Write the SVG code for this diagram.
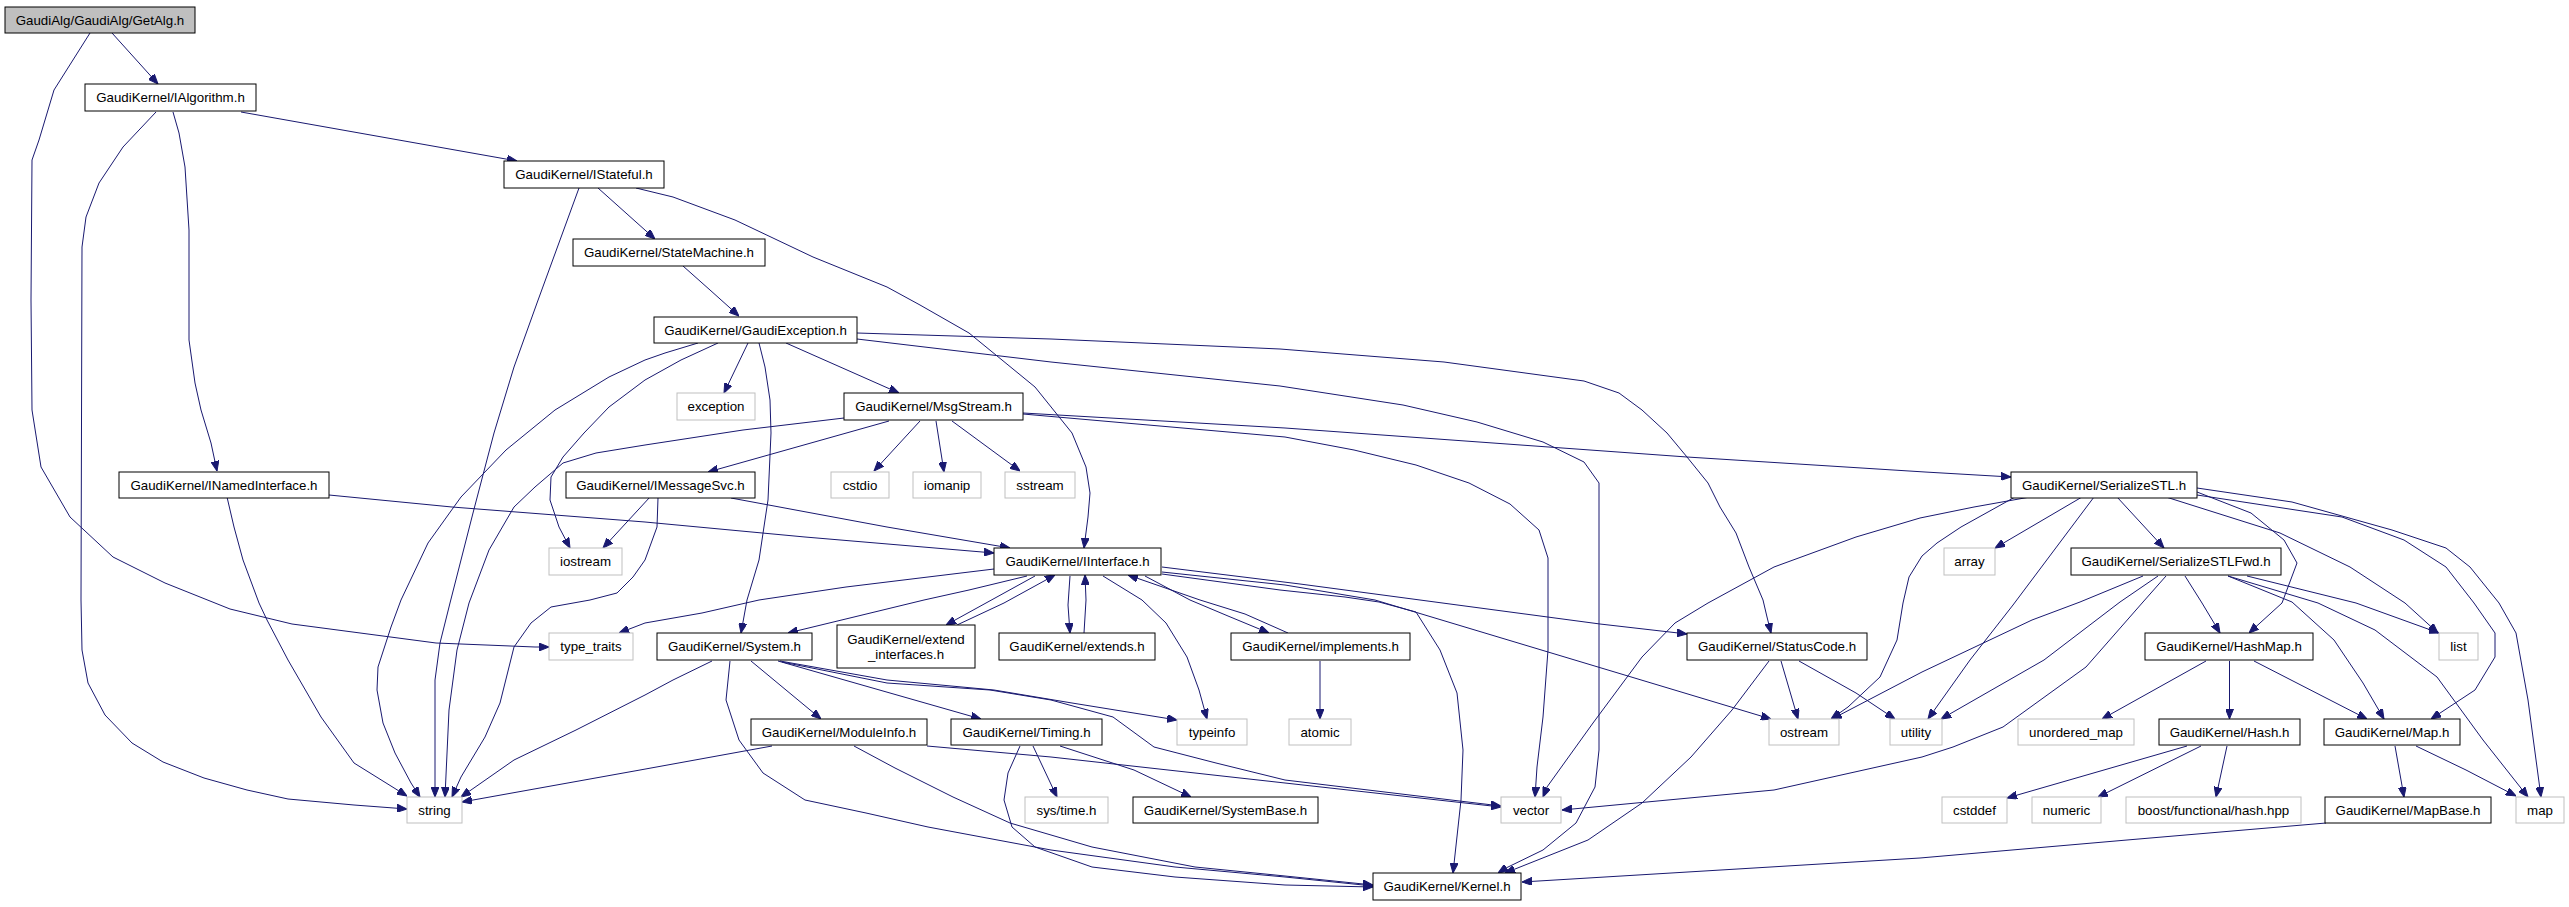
<svg xmlns="http://www.w3.org/2000/svg" width="2569" height="907" viewBox="0 0 2569 907">
<style>
.n rect{fill:#fff;stroke:#000;stroke-width:1}
.s rect{fill:#fff;stroke:#bfbfbf;stroke-width:1}
#n_getalg rect{fill:#bfbfbf}
text{font-family:"Liberation Sans",Arial,sans-serif;font-size:13.3px;text-anchor:middle;fill:#000}
#edges path{fill:none;stroke:#191970;stroke-width:1;marker-end:url(#a);stroke-linejoin:round}
</style>
<defs>
<marker id="a" markerWidth="10" markerHeight="8" refX="10" refY="4" orient="auto" markerUnits="userSpaceOnUse"><path d="M0,0 L10,4 L0,8 z" fill="#191970" stroke="#191970"/></marker>
</defs>
<rect width="2569" height="907" fill="#fff"/>
<g id="edges">
<path d="M112,33 L158,84"/>
<path d="M90,33 L54,90 L39,140 L32,160 L31,300 L32,410 L41,467 L70,517 L113,557 L165,583 L230,609 L292,624 L436,643 L535,647 L549,647"/>
<path d="M241,112 L517,161"/>
<path d="M173,112 L179,133 L185,167 L189,230 L189,340 L195,383 L201,410 L211,443 L217,471"/>
<path d="M156,112 L123,147 L99,183 L86,217 L82,247 L81,600 L82,650 L88,683 L105,715 L132,743 L163,762 L204,778 L247,790 L288,799 L354,805 L407,809"/>
<path d="M598,188 L655,239"/>
<path d="M579,188 L537,303 L514,367 L494,433 L473,513 L450,603 L440,643 L435,680 L435,797"/>
<path d="M636,188 L673,197 L735,220 L813,257 L887,287 L920,305 L969,333 L1002,360 L1035,387 L1072,433 L1086,467 L1090,493 L1088,517 L1084,548"/>
<path d="M683,266 L710,290 L739,316"/>
<path d="M748,343 L724,393"/>
<path d="M786,343 L899,393"/>
<path d="M759,343 L765,367 L770,400 L771,433 L768,500 L759,560 L747,600 L741,633"/>
<path d="M698,343 L665,353 L645,360 L609,377 L555,410 L506,450 L461,497 L428,543 L401,600 L391,627 L378,667 L377,690 L383,723 L395,753 L411,783 L420,797"/>
<path d="M718,343 L681,360 L645,380 L609,407 L584,433 L563,457 L551,477 L550,500 L559,527 L570,548"/>
<path d="M844,418 L743,430 L645,445 L596,453 L563,463 L535,487 L514,507 L489,550 L469,603 L457,650 L449,710 L445,797"/>
<path d="M857,333 L1051,339 L1280,349 L1444,362 L1584,381 L1619,393 L1642,410 L1667,433 L1687,457 L1708,483 L1720,507 L1736,533 L1749,567 L1763,600 L1767,617 L1771,633"/>
<path d="M857,339 L1051,362 L1280,386 L1403,405 L1477,422 L1543,442 L1584,462 L1599,483 L1599,750 L1595,787 L1576,823 L1543,850 L1506,868 L1498,873"/>
<path d="M889,421 L708,472"/>
<path d="M920,421 L874,471"/>
<path d="M936,421 L944,472"/>
<path d="M952,421 L1020,471"/>
<path d="M1023,413 L1285,428 L1687,457 L1925,472 L2011,477"/>
<path d="M1023,414 L1285,437 L1354,450 L1416,465 L1469,483 L1510,504 L1539,530 L1548,558 L1548,650 L1543,717 L1537,767 L1535,797"/>
<path d="M731,498 L887,527 L1010,548"/>
<path d="M329,495 L452,507 L645,522 L805,537 L994,553"/>
<path d="M227,497 L234,527 L243,560 L259,603 L267,620 L288,660 L321,717 L354,763 L407,796"/>
<path d="M650,497 L603,548"/>
<path d="M658,498 L657,527 L645,560 L633,577 L617,593 L590,600 L551,607 L531,623 L514,647 L500,703 L485,737 L461,777 L452,797"/>
<path d="M994,569 L928,577 L846,587 L759,600 L702,613 L645,623 L619,633"/>
<path d="M1027,576 L969,590 L924,600 L854,617 L788,633"/>
<path d="M1035,576 L986,603 L946,625"/>
<path d="M957,625 L1004,603 L1055,575"/>
<path d="M1070,576 L1068,605 L1070,633"/>
<path d="M1084,633 L1086,600 L1085,575"/>
<path d="M1103,576 L1142,600 L1166,623 L1187,657 L1199,690 L1207,719"/>
<path d="M1145,576 L1190,600 L1228,616 L1269,633"/>
<path d="M1288,633 L1245,614 L1200,600 L1128,575"/>
<path d="M1162,567 L1300,584 L1450,604 L1600,624 L1687,634"/>
<path d="M1162,572 L1285,585 L1375,600 L1771,719"/>
<path d="M1162,574 L1280,590 L1345,597 L1379,602 L1416,612 L1440,650 L1457,693 L1463,750 L1461,800 L1453,873"/>
<path d="M712,661 L673,680 L645,695 L576,730 L514,760 L461,797"/>
<path d="M730,661 L726,700 L739,740 L763,773 L805,800 L866,813 L928,827 L1051,850 L1175,867 L1285,877 L1373,886"/>
<path d="M751,661 L821,719"/>
<path d="M778,661 L981,719"/>
<path d="M780,661 L887,680 L994,690 L1072,703 L1177,720"/>
<path d="M782,662 L887,683 L990,690 L1051,700 L1113,717 L1154,747 L1216,763 L1285,780 L1501,806"/>
<path d="M772,746 L640,770 L462,802"/>
<path d="M854,746 L895,768 L953,797 L1010,823 L1092,847 L1195,867 L1285,876 L1373,885"/>
<path d="M927,746 L1051,757 L1285,783 L1501,807"/>
<path d="M1033,746 L1057,797"/>
<path d="M1060,746 L1134,770 L1191,797"/>
<path d="M1020,746 L1008,773 L1004,800 L1012,827 L1035,847 L1092,867 L1175,877 L1285,885 L1373,887"/>
<path d="M1320,661 L1320,719"/>
<path d="M1781,661 L1798,719"/>
<path d="M1799,661 L1856,693 L1895,719"/>
<path d="M1769,661 L1732,710 L1691,757 L1642,803 L1588,840 L1505,873"/>
<path d="M2030,497 L1974,507 L1920,518 L1856,537 L1774,567 L1708,603 L1675,623 L1642,657 L1593,723 L1547,787 L1543,797"/>
<path d="M2015,497 L1961,527 L1937,543 L1922,556 L1909,577 L1903,603 L1897,640 L1880,677 L1848,707 L1831,719"/>
<path d="M2082,497 L1995,548"/>
<path d="M2094,497 L2013,605 L1970,660 L1928,719"/>
<path d="M2117,497 L2164,548"/>
<path d="M2166,497 L2280,533 L2350,567 L2405,603 L2438,633"/>
<path d="M2197,492 L2251,513 L2284,540 L2297,563 L2282,603 L2249,633"/>
<path d="M2197,488 L2292,502 L2392,530 L2446,548 L2470,567 L2499,603 L2516,633 L2528,700 L2541,797"/>
<path d="M2197,495 L2342,517 L2404,540 L2446,567 L2474,603 L2495,633 L2495,657 L2475,690 L2431,719"/>
<path d="M2143,576 L2080,602 L2032,620 L1922,672 L1832,719"/>
<path d="M2158,576 L2120,602 L2044,660 L1941,719"/>
<path d="M2166,576 L2143,602 L2086,667 L2003,727 L1953,747 L1922,757 L1774,790 L1562,810"/>
<path d="M2185,576 L2202,603 L2220,633"/>
<path d="M2228,576 L2292,602 L2334,640 L2363,683 L2384,719"/>
<path d="M2228,576 L2318,603 L2375,630 L2437,677 L2483,740 L2528,797"/>
<path d="M2247,576 L2356,603 L2439,633"/>
<path d="M2206,661 L2102,719"/>
<path d="M2229.5,661 L2229.5,719"/>
<path d="M2254,661 L2367,719"/>
<path d="M2187,746 L2007,798"/>
<path d="M2201,746 L2098,797"/>
<path d="M2227,746 L2216,797"/>
<path d="M2395,746 L2404,797"/>
<path d="M2416,746 L2466,770 L2516,796"/>
<path d="M2326,823 L2127,840 L1920,858 L1522,882"/>
</g>
<g id="n_getalg" class="n"><rect x="5" y="7" width="190" height="26"/><text x="100" y="24.5">GaudiAlg/GaudiAlg/GetAlg.h</text></g>
<g id="n_ialgorithm" class="n"><rect x="85" y="84" width="171" height="27"/><text x="170.5" y="102">GaudiKernel/IAlgorithm.h</text></g>
<g id="n_istateful" class="n"><rect x="504" y="161" width="160" height="27"/><text x="584" y="179">GaudiKernel/IStateful.h</text></g>
<g id="n_statemachine" class="n"><rect x="573" y="239" width="192" height="27"/><text x="669" y="257">GaudiKernel/StateMachine.h</text></g>
<g id="n_gaudiexception" class="n"><rect x="654" y="317" width="203" height="26"/><text x="755.5" y="334.5">GaudiKernel/GaudiException.h</text></g>
<g id="n_exception" class="s"><rect x="677" y="393" width="78" height="27"/><text x="716" y="411">exception</text></g>
<g id="n_msgstream" class="n"><rect x="844" y="393" width="179" height="27"/><text x="933.5" y="411">GaudiKernel/MsgStream.h</text></g>
<g id="n_inamedinterface" class="n"><rect x="119" y="472" width="210" height="26"/><text x="224" y="489.5">GaudiKernel/INamedInterface.h</text></g>
<g id="n_imessagesvc" class="n"><rect x="566" y="472" width="189" height="26"/><text x="660.5" y="489.5">GaudiKernel/IMessageSvc.h</text></g>
<g id="n_cstdio" class="s"><rect x="831" y="472" width="58" height="26"/><text x="860" y="489.5">cstdio</text></g>
<g id="n_iomanip" class="s"><rect x="913" y="472" width="68" height="26"/><text x="947" y="489.5">iomanip</text></g>
<g id="n_sstream" class="s"><rect x="1005" y="472" width="70" height="26"/><text x="1040" y="489.5">sstream</text></g>
<g id="n_serializestl" class="n"><rect x="2011" y="472" width="186" height="26"/><text x="2104" y="489.5">GaudiKernel/SerializeSTL.h</text></g>
<g id="n_iostream" class="s"><rect x="549" y="548" width="73" height="27"/><text x="585.5" y="566">iostream</text></g>
<g id="n_iinterface" class="n"><rect x="994" y="548" width="167" height="27"/><text x="1077.5" y="566">GaudiKernel/IInterface.h</text></g>
<g id="n_array" class="s"><rect x="1944" y="548" width="51" height="27"/><text x="1969.5" y="566">array</text></g>
<g id="n_serializestlfwd" class="n"><rect x="2071" y="548" width="210" height="27"/><text x="2176" y="566">GaudiKernel/SerializeSTLFwd.h</text></g>
<g id="n_type_traits" class="s"><rect x="549" y="633" width="84" height="27"/><text x="591" y="651">type_traits</text></g>
<g id="n_system" class="n"><rect x="657" y="633" width="155" height="27"/><text x="734.5" y="651">GaudiKernel/System.h</text></g>
<g id="n_extend_interfaces" class="n"><rect x="837" y="625" width="138" height="43"/><text x="906" y="643.5">GaudiKernel/extend</text><text x="906" y="658.5">_interfaces.h</text></g>
<g id="n_extends" class="n"><rect x="999" y="633" width="156" height="27"/><text x="1077" y="651">GaudiKernel/extends.h</text></g>
<g id="n_implements" class="n"><rect x="1231" y="633" width="179" height="27"/><text x="1320.5" y="651">GaudiKernel/implements.h</text></g>
<g id="n_statuscode" class="n"><rect x="1687" y="633" width="180" height="27"/><text x="1777" y="651">GaudiKernel/StatusCode.h</text></g>
<g id="n_hashmap" class="n"><rect x="2145" y="633" width="168" height="27"/><text x="2229" y="651">GaudiKernel/HashMap.h</text></g>
<g id="n_list" class="s"><rect x="2439" y="633" width="39" height="27"/><text x="2458.5" y="651">list</text></g>
<g id="n_moduleinfo" class="n"><rect x="751" y="719" width="176" height="26"/><text x="839" y="736.5">GaudiKernel/ModuleInfo.h</text></g>
<g id="n_timing" class="n"><rect x="951" y="719" width="151" height="26"/><text x="1026.5" y="736.5">GaudiKernel/Timing.h</text></g>
<g id="n_typeinfo" class="s"><rect x="1177" y="719" width="70" height="26"/><text x="1212" y="736.5">typeinfo</text></g>
<g id="n_atomic" class="s"><rect x="1289" y="719" width="62" height="26"/><text x="1320" y="736.5">atomic</text></g>
<g id="n_ostream" class="s"><rect x="1769" y="719" width="70" height="26"/><text x="1804" y="736.5">ostream</text></g>
<g id="n_utility" class="s"><rect x="1890" y="719" width="52" height="26"/><text x="1916" y="736.5">utility</text></g>
<g id="n_unordered_map" class="s"><rect x="2018" y="719" width="116" height="26"/><text x="2076" y="736.5">unordered_map</text></g>
<g id="n_hash" class="n"><rect x="2159" y="719" width="141" height="26"/><text x="2229.5" y="736.5">GaudiKernel/Hash.h</text></g>
<g id="n_map_h" class="n"><rect x="2324" y="719" width="136" height="26"/><text x="2392" y="736.5">GaudiKernel/Map.h</text></g>
<g id="n_string" class="s"><rect x="407" y="797" width="55" height="26"/><text x="434.5" y="814.5">string</text></g>
<g id="n_systime" class="s"><rect x="1025" y="797" width="83" height="26"/><text x="1066.5" y="814.5">sys/time.h</text></g>
<g id="n_systembase" class="n"><rect x="1133" y="797" width="185" height="26"/><text x="1225.5" y="814.5">GaudiKernel/SystemBase.h</text></g>
<g id="n_vector" class="s"><rect x="1501" y="797" width="60" height="26"/><text x="1531" y="814.5">vector</text></g>
<g id="n_cstddef" class="s"><rect x="1942" y="797" width="65" height="26"/><text x="1974.5" y="814.5">cstddef</text></g>
<g id="n_numeric" class="s"><rect x="2032" y="797" width="69" height="26"/><text x="2066.5" y="814.5">numeric</text></g>
<g id="n_boost" class="s"><rect x="2126" y="797" width="175" height="26"/><text x="2213.5" y="814.5">boost/functional/hash.hpp</text></g>
<g id="n_mapbase" class="n"><rect x="2325" y="797" width="166" height="26"/><text x="2408" y="814.5">GaudiKernel/MapBase.h</text></g>
<g id="n_map" class="s"><rect x="2516" y="797" width="48" height="26"/><text x="2540" y="814.5">map</text></g>
<g id="n_kernel" class="n"><rect x="1373" y="873" width="148" height="27"/><text x="1447" y="891">GaudiKernel/Kernel.h</text></g>
</svg>
